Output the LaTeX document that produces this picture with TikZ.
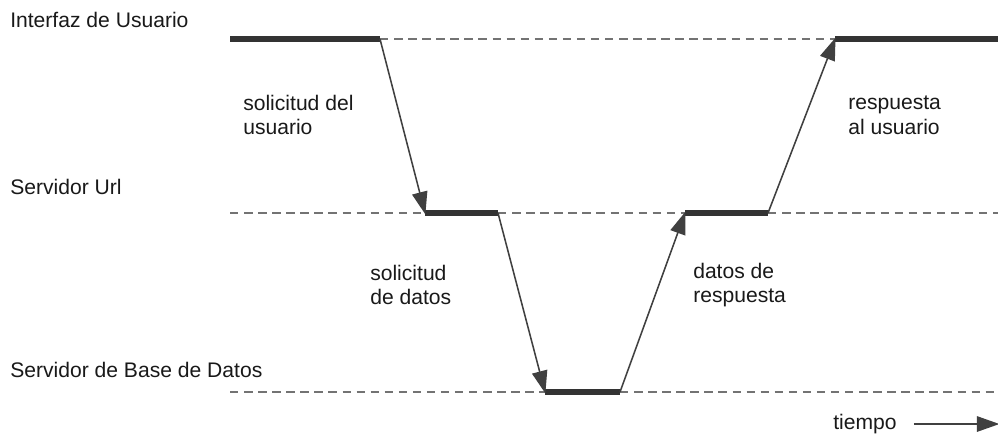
\documentclass[tikz,border=0pt]{standalone}
\usepackage{fontspec}
\setmainfont{Liberation Sans}
\usetikzlibrary{arrows.meta}
\begin{document}
\begin{tikzpicture}[x=0.025cm,y=-0.025cm]
\tikzstyle{label} = [anchor = west, inner sep = 0pt, align = left, font = \fontsize{15}{17.5}\selectfont, text = black!90]
\tikzstyle{active} = [line width = 3.6pt, black!80]
\tikzstyle{idle} = [line width = 1pt, dashed, dash pattern = on 6pt off 4pt, black!55]
\tikzstyle{arrow} = [line width = 1.1pt, black!75, -{Triangle[length = 16pt, width = 11pt]}, shorten >= -1pt]
\useasboundingbox (0,0) rectangle (998,437);
% lanes
\node[label](ui) at (10,20){Interfaz de Usuario};
\node[label](url) at (10,187){Servidor Url};
\node[label](db) at (10,370){Servidor de Base de Datos};
\coordinate (ui0) at (230,39);
\coordinate (ui1) at (380,39);
\coordinate (ui2) at (835,39);
\coordinate (ui3) at (998,39);
\coordinate (url0) at (230,213);
\coordinate (url1) at (425,213);
\coordinate (url2) at (498,213);
\coordinate (url3) at (685,213);
\coordinate (url4) at (768,213);
\coordinate (url5) at (998,213);
\coordinate (db0) at (230,392);
\coordinate (db1) at (545,392);
\coordinate (db2) at (620,392);
\coordinate (db3) at (998,392);
\draw[idle] (ui1)--(ui2);
\draw[idle] (url0)--(url1);
\draw[idle] (url2)--(url3);
\draw[idle] (url4)--(url5);
\draw[idle] (db0)--(db1);
\draw[idle] (db2)--(db3);
\draw[active] (ui0)--(ui1);
\draw[active] (ui2)--(ui3);
\draw[active] (url1)--(url2);
\draw[active] (url3)--(url4);
\draw[active] (db1)--(db2);
% messages
\draw[arrow] (ui1)--(url1);
\draw[arrow] (url2)--(db1);
\draw[arrow] (db2)--(url3);
\draw[arrow] (url4)--(ui2);
\node[label](req1) at (243,115){solicitud del\\usuario};
\node[label](req2) at (370,285){solicitud\\de datos};
\node[label](resp2) at (693,285){datos de\\respuesta};
\node[label](resp1) at (848,115){respuesta\\al usuario};
% time axis
\node[label](tiempo) at (833,424){tiempo};
\coordinate (tend) at (998,424);
\draw[arrow] ([xshift=12pt]tiempo.east)--(tend);
\end{tikzpicture}
\end{document}
